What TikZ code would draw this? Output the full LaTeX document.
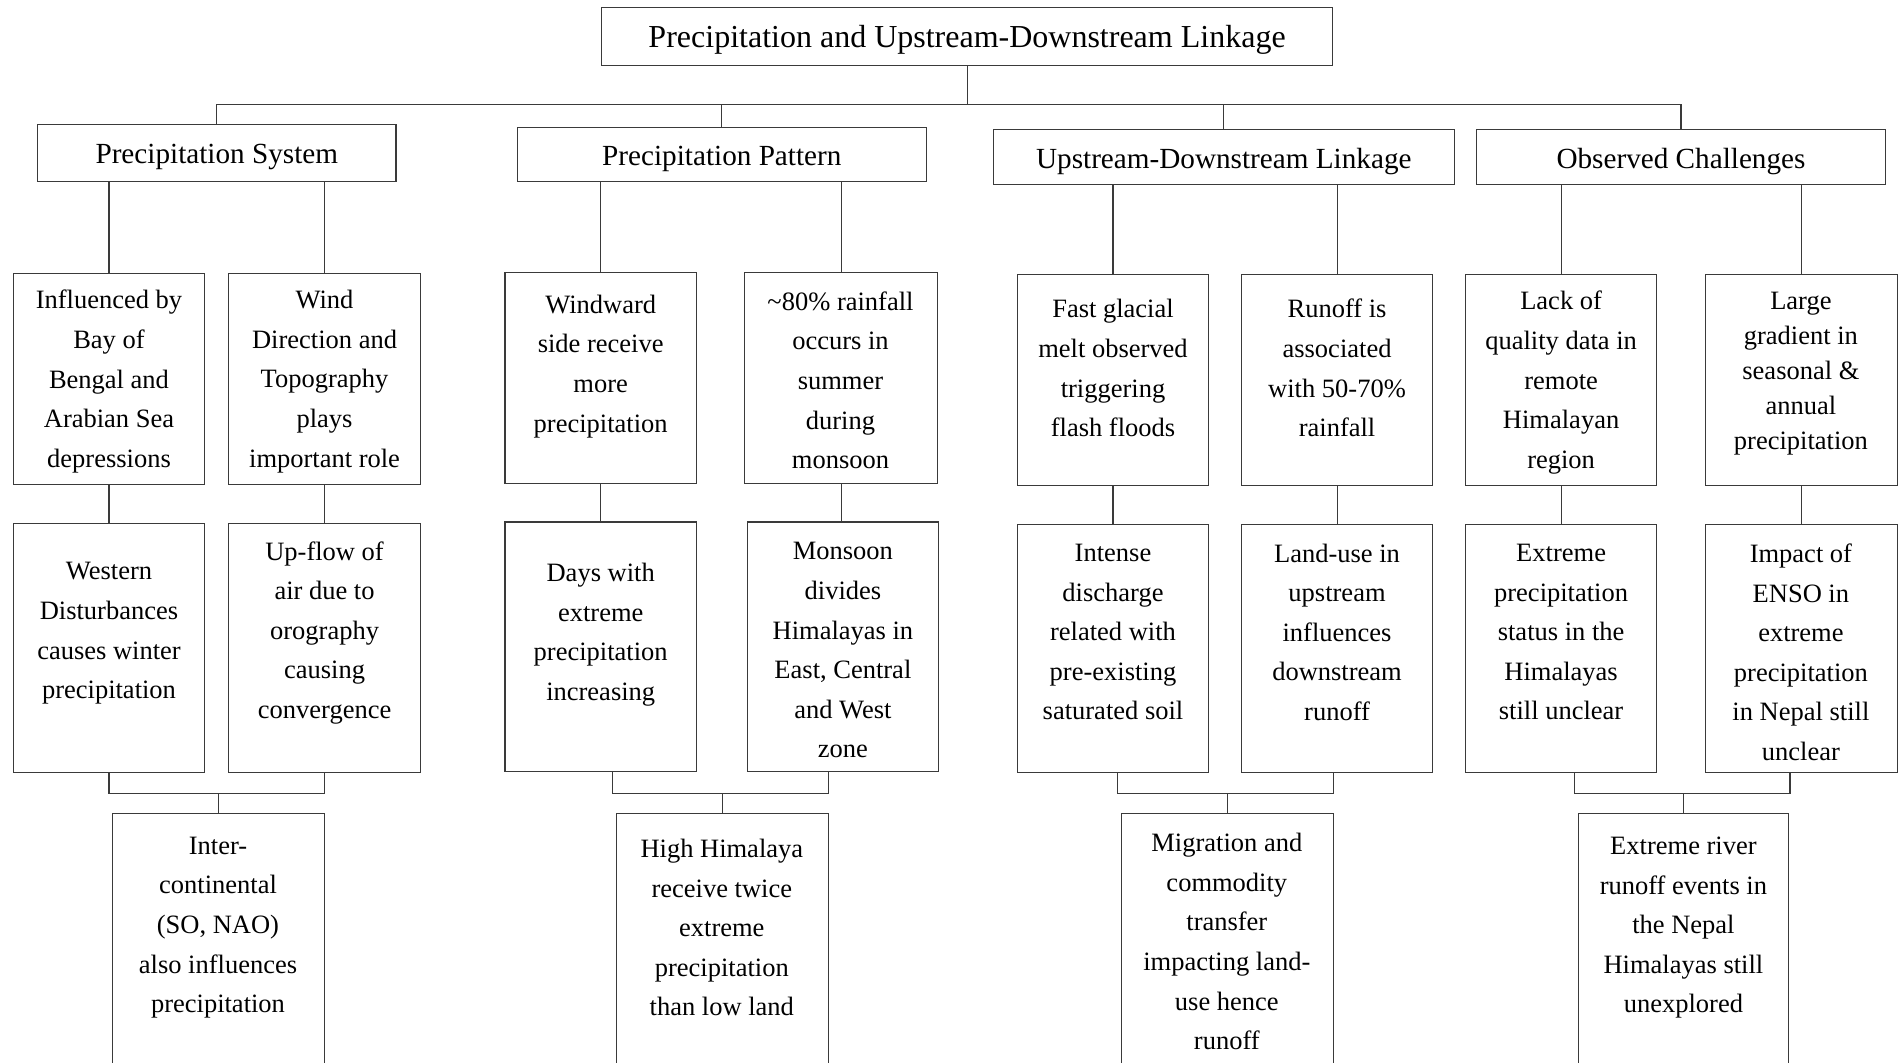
\documentclass[tikz,border=0pt]{standalone}
\usepackage{fontspec}
\setmainfont{Liberation Serif}
\usetikzlibrary{fit}
\definecolor{linecol}{HTML}{3A3A3A}
\newcommand{\bodyfont}{\fontsize{13.25}{19.8}\selectfont}
\newcommand{\tightfont}{\fontsize{13.25}{17.5}\selectfont}
\newcommand{\catfont}{\fontsize{14.6}{18}\selectfont}
\begin{document}
\begin{tikzpicture}[x=0.60555pt,y=-0.60555pt,
  box/.style={draw=linecol, line width=0.55pt, inner sep=0pt, rectangle},
  txt/.style={align=center, inner sep=0pt, font=\bodyfont, text=black},
  link/.style={draw=linecol, line width=0.55pt}]
\useasboundingbox (0,0) rectangle (1568,877);
\clip (0,0) rectangle (1568,877);
\fill[white] (0,0) rectangle (1568,877);
% title and categories
\node[box, fit={(497,6) (1100,54)}] (t) {};
\node[box, fit={(31,103) (327,150)}] (c1) {};
\node[box, fit={(427,105) (765,150)}] (c2) {};
\node[box, fit={(820,107) (1201,152)}] (c3) {};
\node[box, fit={(1219,107) (1557,152)}] (c4) {};
\node[txt, font=\fontsize{16}{19}\selectfont] (tt) at (798.5,33) {Precipitation and Upstream-Downstream Linkage};
\node[txt, font=\catfont] (c1t) at (179,130) {Precipitation System};
\node[txt, font=\catfont] (c2t) at (596,131) {Precipitation Pattern};
\node[txt, font=\catfont] (c3t) at (1010.5,133) {Upstream-Downstream Linkage};
\node[txt, font=\catfont] (c4t) at (1388,133) {Observed Challenges};
% row 2 boxes
\node[box, fit={(11,226) (169,400)}] (a1) {};
\node[box, fit={(189,226) (347,400)}] (a2) {};
\node[box, fit={(417,225) (575,399)}] (a3) {};
\node[box, fit={(615,225) (774,399)}] (a4) {};
\node[box, fit={(840,227) (998,401)}] (a5) {};
\node[box, fit={(1025,227) (1183,401)}] (a6) {};
\node[box, fit={(1210,227) (1368,401)}] (a7) {};
\node[box, fit={(1408,227) (1567,401)}] (a8) {};
% row 3 boxes
\node[box, fit={(11,432) (169,638)}] (b1) {};
\node[box, fit={(189,432) (347,638)}] (b2) {};
\node[box, fit={(417,431) (575,637)}] (b3) {};
\node[box, fit={(617,431) (775,637)}] (b4) {};
\node[box, fit={(840,433) (998,638)}] (b5) {};
\node[box, fit={(1025,433) (1183,638)}] (b6) {};
\node[box, fit={(1210,433) (1368,638)}] (b7) {};
\node[box, fit={(1408,433) (1567,638)}] (b8) {};
% bottom boxes
\node[box, fit={(93,672) (268,905)}] (d1) {};
\node[box, fit={(509,672) (684,905)}] (d2) {};
\node[box, fit={(926,672) (1101,905)}] (d3) {};
\node[box, fit={(1303,672) (1477,905)}] (d4) {};
% texts
\node[txt] (a1t) at (90,315) {Influenced by\\Bay of\\Bengal and\\Arabian Sea\\depressions};
\node[txt] (a2t) at (268,315) {Wind\\Direction and\\Topography\\plays\\important role};
\node[txt] (a3t) at (496,302.5) {Windward\\side receive\\more\\precipitation};
\node[txt] (a4t) at (694,314) {\textasciitilde 80\% rainfall\\occurs in\\summer\\during\\monsoon};
\node[txt] (a5t) at (919,304) {Fast glacial\\melt observed\\triggering\\flash floods};
\node[txt] (a6t) at (1104,304) {Runoff is\\associated\\with 50-70\%\\rainfall};
\node[txt] (a7t) at (1289,316) {Lack of\\quality data in\\remote\\Himalayan\\region};
\node[txt, font=\tightfont] (a8t) at (1487,308.5) {Large\\gradient in\\seasonal \&\\annual\\precipitation};
\node[txt] (b1t) at (90,523) {Western\\Disturbances\\causes winter\\precipitation};
\node[txt] (b2t) at (268,522.5) {Up-flow of\\air due to\\orography\\causing\\convergence};
\node[txt] (b3t) at (496,524) {Days with\\extreme\\precipitation\\increasing};
\node[txt] (b4t) at (696,537) {Monsoon\\divides\\Himalayas in\\East, Central\\and West\\zone};
\node[txt] (b5t) at (919,522) {Intense\\discharge\\related with\\pre-existing\\saturated soil};
\node[txt] (b6t) at (1104,522) {Land-use in\\upstream\\influences\\downstream\\runoff};
\node[txt] (b7t) at (1289,522) {Extreme\\precipitation\\status in the\\Himalayas\\still unclear};
\node[txt] (b8t) at (1487,538.6) {Impact of\\ENSO in\\extreme\\precipitation\\in Nepal still\\unclear};
\node[txt] (d1t) at (180,766) {Inter-\\continental\\(SO, NAO)\\also influences\\precipitation};
\node[txt] (d2t) at (596,766) {High Himalaya\\receive twice\\extreme\\precipitation\\than low land};
\node[txt] (d3t) at (1013,777.5) {Migration and\\commodity\\transfer\\impacting land-\\use hence\\runoff};
\node[txt] (d4t) at (1390,766) {Extreme river\\runoff events in\\the Nepal\\Himalayas still\\unexplored};
% top connectors
\coordinate (bus) at (0,86);
\draw[link] (t.south) -- (t.south |- bus);
\draw[link] (c1.north) -- (c1.north |- bus) -- (c4.north |- bus) -- (c4.north);
\draw[link] (c2.north) -- (c2.north |- bus);
\draw[link] (c3.north) -- (c3.north |- bus);
% category to row 2
\draw[link] (a1.north) -- (a1.north |- c1.south);
\draw[link] (a2.north) -- (a2.north |- c1.south);
\draw[link] (a3.north) -- (a3.north |- c2.south);
\draw[link] (a4.north) -- (a4.north |- c2.south);
\draw[link] (a5.north) -- (a5.north |- c3.south);
\draw[link] (a6.north) -- (a6.north |- c3.south);
\draw[link] (a7.north) -- (a7.north |- c4.south);
\draw[link] (a8.north) -- (a8.north |- c4.south);
% row 2 to row 3
\draw[link] (a1.south) -- (a1.south |- b1.north);
\draw[link] (a2.south) -- (a2.south |- b2.north);
\draw[link] (a3.south) -- (a3.south |- b3.north);
\draw[link] (a4.south) -- (a4.south |- b4.north);
\draw[link] (a5.south) -- (a5.south |- b5.north);
\draw[link] (a6.south) -- (a6.south |- b6.north);
\draw[link] (a7.south) -- (a7.south |- b7.north);
\draw[link] (a8.south) -- (a8.south |- b8.north);
% brackets
\coordinate (k1l) at (90,655);   \coordinate (k1r) at (268,655);
\coordinate (k2l) at (506,655);  \coordinate (k2r) at (684,655);
\coordinate (k3l) at (923,655);  \coordinate (k3r) at (1101,655);
\coordinate (k4l) at (1300,655); \coordinate (k4r) at (1478,655);
\draw[link] (k1l |- b1.south) -- (k1l) -- (k1r) -- (k1r |- b2.south);
\draw[link] (k2l |- b3.south) -- (k2l) -- (k2r) -- (k2r |- b4.south);
\draw[link] (k3l |- b5.south) -- (k3l) -- (k3r) -- (k3r |- b6.south);
\draw[link] (k4l |- b7.south) -- (k4l) -- (k4r) -- (k4r |- b8.south);
\draw[link] (d1.north) -- (d1.north |- k1l);
\draw[link] (d2.north) -- (d2.north |- k2l);
\draw[link] (d3.north) -- (d3.north |- k3l);
\draw[link] (d4.north) -- (d4.north |- k4l);
\end{tikzpicture}
\end{document}
